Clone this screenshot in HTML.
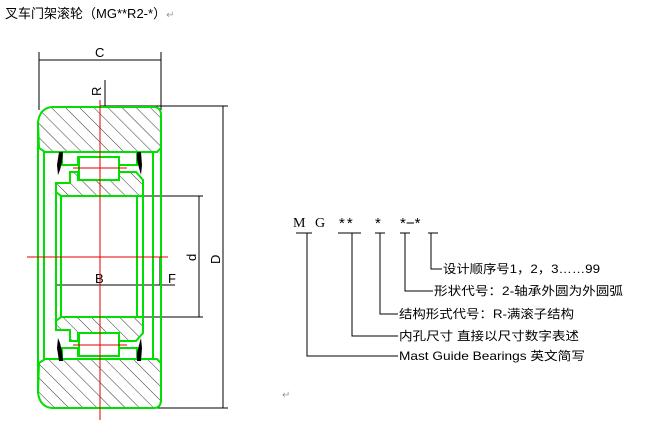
<!DOCTYPE html>
<html><head><meta charset="utf-8"><style>
html,body{margin:0;padding:0;background:#fff;width:645px;height:422px;overflow:hidden}
svg{display:block}
.t{font-family:"Liberation Sans","Noto Sans CJK SC",sans-serif}
</style></head><body>
<svg width="645" height="422" viewBox="0 0 645 422" xmlns="http://www.w3.org/2000/svg">
<defs>
<pattern id="h" width="10" height="10" patternUnits="userSpaceOnUse" patternTransform="rotate(-45)">
<line x1="0" y1="0" x2="0" y2="10" stroke="#000" stroke-width="0.8"/>
</pattern>
</defs>
<text x="5" y="18" class="t" font-size="13" fill="#000">叉车门架滚轮（MG**R2-*）<tspan fill="#999" font-size="10">↵</tspan></text>

<g stroke="#000" stroke-width="1" fill="none">
<line x1="39" y1="52" x2="39" y2="110"/>
<line x1="161" y1="52" x2="161" y2="110"/>
<line x1="39" y1="60" x2="161" y2="60"/>
<line x1="105" y1="80" x2="105" y2="106"/>
<line x1="100" y1="106" x2="228" y2="106"/>
<line x1="100" y1="408" x2="228" y2="408"/>
<line x1="223" y1="106" x2="223" y2="408"/>
<line x1="143" y1="196" x2="203" y2="196"/>
<line x1="143" y1="317" x2="203" y2="317"/>
<line x1="199" y1="196" x2="199" y2="317"/>
<line x1="57" y1="285" x2="175" y2="285"/>
<line x1="160" y1="257" x2="160" y2="285"/>
</g>
<text x="95" y="57" class="t" font-size="13">C</text>
<text x="0" y="0" class="t" font-size="13" transform="translate(101,96) rotate(-90)">R</text>
<text x="0" y="0" class="t" font-size="13" transform="translate(220,264) rotate(-90)">D</text>
<text x="0" y="0" class="t" font-size="13" transform="translate(196,261) rotate(-90)">d</text>
<text x="95" y="283" class="t" font-size="13">B</text>
<text x="168" y="283" class="t" font-size="13">F</text>

<g stroke="#00e000" stroke-width="2" fill="url(#h)">
<path d="M38,122 Q40,108 52,107 L155,107 Q161,108 161,115 L161,148 L157,152 L45,152 L39,148 Z"/>
<path d="M38,393 Q40,407 52,408 L155,408 Q161,407 161,400 L161,363 L157,359 L45,359 L39,363 Z"/>
<path d="M56,183 L70,183 L70,172 L78,172 L78,180 L119,180 L119,172 L136,172 L143,180 L143,196 L61,196 L56,192 Z"/>
<path d="M56,330 L70,330 L70,341 L78,341 L78,333 L119,333 L119,341 L136,341 L143,333 L143,317 L61,317 L56,321 Z"/>
</g>
<g stroke="#00e000" stroke-width="2" fill="none">
<line x1="38" y1="122" x2="38" y2="393"/>
<line x1="161" y1="115" x2="161" y2="400"/>
<line x1="44" y1="152" x2="44" y2="359"/>
<line x1="153" y1="152" x2="153" y2="359"/>
<line x1="56" y1="183" x2="56" y2="330"/>
<line x1="143" y1="183" x2="143" y2="330"/>
<line x1="61" y1="196" x2="61" y2="317"/>
<line x1="137" y1="196" x2="137" y2="317"/>
<path d="M62,152 L62,165 L78,165 L78,157 L119,157 L119,165 L137,165 L137,152"/>
<path d="M62,359 L62,348 L78,348 L78,356 L119,356 L119,348 L137,348 L137,359"/>
<rect x="79" y="157" width="40" height="23" fill="#fff"/>
<rect x="79" y="333" width="40" height="23" fill="#fff"/>
</g>
<g fill="#000">
<path d="M59,152 L63,152 L62,162 L60,170 L58,175 L57,165 Z"/>
<path d="M137,152 L141,152 L142,165 L141,175 L139,168 L137,160 Z"/>
<path d="M59,361 L63,361 L62,351 L60,343 L58,338 L57,348 Z"/>
<path d="M137,361 L141,361 L142,348 L141,338 L139,345 L137,353 Z"/>
</g>
<g stroke="#e00000" stroke-width="1">
<line x1="27" y1="257" x2="168" y2="257"/>
<line x1="100" y1="100" x2="100" y2="420"/>
<line x1="73" y1="168" x2="127" y2="168"/>
<line x1="73" y1="345" x2="127" y2="345"/>
</g>

<g class="t" font-size="14" fill="#000">
<text x="293" y="227" font-family="Liberation Serif,serif" letter-spacing="3">M G</text>
<text x="339" y="228" font-size="15" letter-spacing="2">**</text>
<text x="375" y="228" font-size="15">*</text>
<text x="400" y="228" font-size="15">*−*</text>
</g>
<g stroke="#000" stroke-width="1" fill="none">
<line x1="296" y1="233" x2="312" y2="233"/>
<line x1="338" y1="233" x2="361" y2="233"/>
<line x1="375" y1="233" x2="385" y2="233"/>
<line x1="400" y1="233" x2="410" y2="233"/>
<line x1="428" y1="233" x2="438" y2="233"/>
<path d="M307,233 L307,356 L398,356"/>
<path d="M352,233 L352,336 L398,336"/>
<path d="M380,233 L380,314 L398,314"/>
<path d="M405,233 L405,291 L433,291"/>
<path d="M431,233 L431,269 L442,269"/>
</g>
<g class="t" font-size="12" fill="#000">
<text x="443" y="273" textLength="157" lengthAdjust="spacingAndGlyphs">设计顺序号1，2，3……99</text>
<text x="434" y="295" textLength="189" lengthAdjust="spacingAndGlyphs">形状代号：2-轴承外圆为外圆弧</text>
<text x="399" y="318" textLength="175" lengthAdjust="spacingAndGlyphs">结构形式代号：R-满滚子结构</text>
<text x="399" y="340" textLength="180" lengthAdjust="spacingAndGlyphs">内孔尺寸 直接以尺寸数字表述</text>
<text x="399" y="360" textLength="186" lengthAdjust="spacingAndGlyphs">Mast Guide Bearings 英文简写</text>
</g>
<text x="282" y="398" class="t" font-size="10" fill="#999">↵</text>
</svg>
</body></html>
